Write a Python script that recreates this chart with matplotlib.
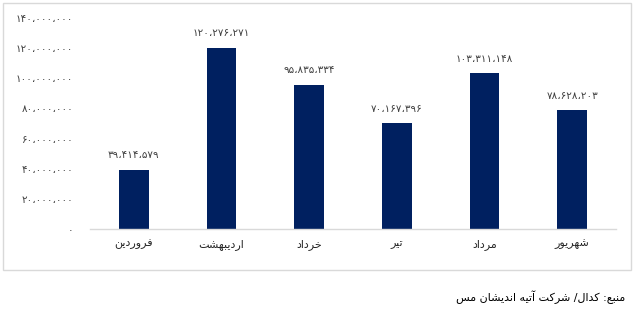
import matplotlib
matplotlib.use("Agg")
import matplotlib.pyplot as plt
from matplotlib.patches import Rectangle

months = ["فروردین", "اردیبهشت", "خرداد", "تیر", "مرداد", "شهریور"]
values = [39414579, 120276271, 95835334, 70167396, 103311148, 78628203]
yticks = [0, 20000000, 40000000, 60000000, 80000000, 100000000, 120000000, 140000000]
source = "منبع: کدال/ شرکت آتیه اندیشان مس"

bar_color = "#002060"

# matplotlib has no arabic shaping, so pick presentation forms by hand
# letter: (isolated, final, initial, medial)
FORMS = {
    "ا": ("\uFE8D", "\uFE8E", None, None),
    "آ": ("\uFE81", "\uFE82", None, None),
    "ب": ("\uFE8F", "\uFE90", "\uFE91", "\uFE92"),
    "ت": ("\uFE95", "\uFE96", "\uFE97", "\uFE98"),
    "خ": ("\uFEA5", "\uFEA6", "\uFEA7", "\uFEA8"),
    "د": ("\uFEA9", "\uFEAA", None, None),
    "ر": ("\uFEAD", "\uFEAE", None, None),
    "س": ("\uFEB1", "\uFEB2", "\uFEB3", "\uFEB4"),
    "ش": ("\uFEB5", "\uFEB6", "\uFEB7", "\uFEB8"),
    "ع": ("\uFEC9", "\uFECA", "\uFECB", "\uFECC"),
    "ف": ("\uFED1", "\uFED2", "\uFED3", "\uFED4"),
    "ک": ("\uFED9", "\uFEDA", "\uFEDB", "\uFEDC"),
    "ل": ("\uFEDD", "\uFEDE", "\uFEDF", "\uFEE0"),
    "م": ("\uFEE1", "\uFEE2", "\uFEE3", "\uFEE4"),
    "ن": ("\uFEE5", "\uFEE6", "\uFEE7", "\uFEE8"),
    "ه": ("\uFEE9", "\uFEEA", "\uFEEB", "\uFEEC"),
    "و": ("\uFEED", "\uFEEE", None, None),
    "ی": ("\uFEEF", "\uFEF0", "\uFEF3", "\uFEF4"),
}


def shape(text):
    out = []
    for i, ch in enumerate(text):
        if ch not in FORMS:
            out.append(ch)
            continue
        prev = text[i - 1] if i > 0 else ""
        nxt = text[i + 1] if i + 1 < len(text) else ""
        join_prev = prev in FORMS and FORMS[prev][2] is not None
        join_next = nxt in FORMS and FORMS[ch][2] is not None
        iso, fin, ini, med = FORMS[ch]
        if join_prev and join_next:
            out.append(med)
        elif join_prev:
            out.append(fin)
        elif join_next:
            out.append(ini)
        else:
            out.append(iso)
    return "".join(out)[::-1]


def fa_num(n):
    s = f"{n:,}"
    return s.translate(str.maketrans("0123456789,", "۰۱۲۳۴۵۶۷۸۹،"))


plt.rcParams["font.family"] = ["DejaVu Sans"]

fig = plt.figure(figsize=(6.33, 3.10), dpi=100)
ax = fig.add_axes([90 / 633, 1 - 229 / 310, 526 / 633, 211 / 310])

x = list(range(len(months)))
ax.bar(x, values, width=0.34, color=bar_color)

for xi, v in zip(x, values):
    ax.annotate(fa_num(v), (xi, v), xytext=(0, 7), textcoords="offset points",
                ha="center", va="bottom", fontsize=7.5, color="#404040")

ax.set_xlim(-0.5, len(months) - 0.5)
ax.set_ylim(0, 140000000)
ax.set_yticks(yticks)
ax.set_yticklabels([fa_num(t) for t in yticks], fontsize=7.5, color="#404040")
ax.set_xticks(x)
ax.set_xticklabels([shape(m) for m in months], fontsize=8, color="#262626")
ax.tick_params(axis="y", length=0, pad=12)
ax.tick_params(axis="x", length=0, pad=7)

for side in ["top", "right", "left"]:
    ax.spines[side].set_visible(False)
ax.spines["bottom"].set_color("#d9d9d9")
ax.spines["bottom"].set_linewidth(1)

# light frame around the chart area
fig.patches.append(Rectangle((3 / 633, 1 - 270 / 310), 628 / 633, 267 / 310,
                             transform=fig.transFigure, fill=False,
                             edgecolor="#d9d9d9", linewidth=1))

fig.text(625 / 633, 1 - 297 / 310, shape(source), ha="right", va="center",
         fontsize=8, color="#000000")

fig.savefig("out.png", dpi=100)
